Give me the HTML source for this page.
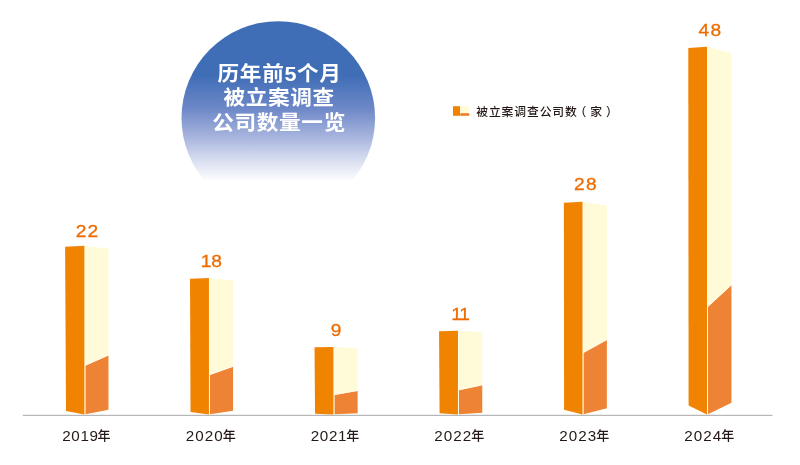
<!DOCTYPE html>
<html lang="zh-CN">
<head>
<meta charset="utf-8">
<title>历年前5个月被立案调查公司数量一览</title>
<style>
html,body{margin:0;padding:0;background:#fff;}
body{width:800px;height:465px;overflow:hidden;position:relative;}
svg{position:absolute;left:0;top:0;display:block;}
text{font-family:"Liberation Sans","Noto Sans CJK SC",sans-serif;}
.v{font-size:17.4px;fill:#ed6c00;text-anchor:middle;stroke:#ed6c00;stroke-width:0.3px;}
.x{font-size:15.2px;fill:#231815;}
.n{font-size:13px;font-weight:500;}
.t{font-size:20.6px;font-weight:bold;fill:#fff;text-anchor:middle;letter-spacing:0.62px;}
.l{font-size:11.8px;font-weight:500;fill:#231815;letter-spacing:0.9px;}
</style>
</head>
<body>
<svg width="800" height="465" viewBox="0 0 800 465">
<defs>
<linearGradient id="g" x1="0" y1="0" x2="0" y2="1">
<stop offset="0" stop-color="#3f6db6"/>
<stop offset="0.28" stop-color="#3f6db6"/>
<stop offset="0.45" stop-color="#6d88c8"/>
<stop offset="0.61" stop-color="#acb8df"/>
<stop offset="0.73" stop-color="#dde2f2"/>
<stop offset="0.83" stop-color="#ffffff"/>
<stop offset="1" stop-color="#ffffff"/>
</linearGradient>
</defs>
<rect width="800" height="465" fill="#fff"/>
<circle cx="278.3" cy="118" r="96.8" fill="url(#g)"/>
<text class="t" transform="translate(279.6,80.6) scale(1.05,1)">历年前5个月</text>
<text class="t" transform="translate(279.1,105.4) scale(1.05,1)">被立案调查</text>
<text class="t" transform="translate(279.1,130.2) scale(1.05,1)">公司数量一览</text>
<rect x="453" y="106.2" width="16.2" height="9.6" fill="#fffad7"/>
<rect x="453" y="106.2" width="7.0" height="9.6" fill="#f08300"/>
<rect x="460.3" y="113.2" width="8.9" height="2.6" fill="#ee7d2c"/>
<text class="l" x="476.2" y="116.2">被立案调查公司数<tspan dx="-3.3">（</tspan><tspan dx="3.0">家</tspan><tspan dx="3.0">）</tspan></text>
<rect x="22.8" y="414.8" width="749.7" height="1.1" fill="#b0b0b0"/>
<polygon points="84.10,245.70 108.45,248.70 108.45,409.71 84.10,414.50" fill="#fffad7"/>
<polygon points="85.40,365.72 108.45,355.42 108.45,409.71 85.40,414.30" fill="#ee8335"/>
<polyline points="108.45,355.02 84.90,365.32 84.90,414.20" fill="none" stroke="#fffef4" stroke-width="0.8"/>
<line x1="84.80" y1="246.20" x2="84.80" y2="365.72" stroke="#fffef4" stroke-width="0.8"/>
<polygon points="65.10,246.63 84.40,245.70 84.40,414.50 66.00,411.01" fill="#f08300"/>
<text class="v" transform="translate(87.39,236.7) scale(1.10,1)" style="letter-spacing:0.8px">22</text>
<text class="x" x="62.30" y="441.0" style="letter-spacing:0.6px">2019<tspan class="n" x="97.60" dy="-1.3">年</tspan></text>
<polygon points="208.62,278.00 233.05,280.43 233.05,410.85 208.62,414.50" fill="#fffad7"/>
<polygon points="209.92,375.05 233.05,366.73 233.05,410.85 209.92,414.30" fill="#ee8335"/>
<polyline points="233.05,366.33 209.42,374.65 209.42,414.20" fill="none" stroke="#fffef4" stroke-width="0.8"/>
<line x1="209.32" y1="278.50" x2="209.32" y2="375.05" stroke="#fffef4" stroke-width="0.8"/>
<polygon points="190.02,278.75 208.92,278.00 208.92,414.50 190.52,411.90" fill="#f08300"/>
<text class="v" transform="translate(211.35,267.1) scale(1.10,1)" style="letter-spacing:0.0px">18</text>
<text class="x" x="185.70" y="441.0" style="letter-spacing:1.05px">2020<tspan class="n" x="222.70" dy="-1.3">年</tspan></text>
<polygon points="333.14,347.00 357.65,348.20 357.65,413.30 333.14,414.50" fill="#fffad7"/>
<polygon points="334.44,394.99 357.65,390.88 357.65,413.30 334.44,414.30" fill="#ee8335"/>
<polyline points="357.65,390.48 333.94,394.59 333.94,414.20" fill="none" stroke="#fffef4" stroke-width="0.8"/>
<line x1="333.84" y1="347.50" x2="333.84" y2="394.99" stroke="#fffef4" stroke-width="0.8"/>
<polygon points="314.54,347.37 333.44,347.00 333.44,414.50 315.04,413.81" fill="#f08300"/>
<text class="v" transform="translate(336.15,336.1) scale(1.10,1)" style="letter-spacing:0px">9</text>
<text class="x" x="310.70" y="441.0" style="letter-spacing:0.65px">2021<tspan class="n" x="346.20" dy="-1.3">年</tspan></text>
<polygon points="457.66,330.80 482.25,332.29 482.25,412.73 457.66,414.50" fill="#fffad7"/>
<polygon points="458.96,390.31 482.25,385.20 482.25,412.73 458.96,414.30" fill="#ee8335"/>
<polyline points="482.25,384.81 458.46,389.91 458.46,414.20" fill="none" stroke="#fffef4" stroke-width="0.8"/>
<line x1="458.36" y1="331.30" x2="458.36" y2="390.31" stroke="#fffef4" stroke-width="0.8"/>
<polygon points="439.06,331.26 457.96,330.80 457.96,414.50 439.56,413.36" fill="#f08300"/>
<text class="v" transform="translate(459.99,319.5) scale(1.10,1)" style="letter-spacing:-1.2px">11</text>
<text class="x" x="434.30" y="441.0" style="letter-spacing:1.05px">2022<tspan class="n" x="471.20" dy="-1.3">年</tspan></text>
<polygon points="582.18,201.70 606.85,205.49 606.85,408.15 582.18,414.50" fill="#fffad7"/>
<polygon points="583.48,353.00 606.85,340.02 606.85,408.15 583.48,414.30" fill="#ee8335"/>
<polyline points="606.85,339.62 582.98,352.60 582.98,414.20" fill="none" stroke="#fffef4" stroke-width="0.8"/>
<line x1="582.88" y1="202.20" x2="582.88" y2="353.00" stroke="#fffef4" stroke-width="0.8"/>
<polygon points="563.88,202.87 582.48,201.70 582.48,414.50 564.08,409.80" fill="#f08300"/>
<text class="v" transform="translate(585.91,190.0) scale(1.10,1)" style="letter-spacing:1.2px">28</text>
<text class="x" x="559.30" y="441.0" style="letter-spacing:1.05px">2023<tspan class="n" x="596.20" dy="-1.3">年</tspan></text>
<polygon points="706.70,46.75 731.45,53.30 731.45,402.64 706.70,414.50" fill="#fffad7"/>
<polygon points="708.00,306.93 731.45,285.24 731.45,402.64 708.00,414.30" fill="#ee8335"/>
<polyline points="731.45,284.84 707.50,306.53 707.50,414.20" fill="none" stroke="#fffef4" stroke-width="0.8"/>
<line x1="707.40" y1="47.25" x2="707.40" y2="306.93" stroke="#fffef4" stroke-width="0.8"/>
<polygon points="688.30,48.04 707.00,46.75 707.00,414.50 688.60,405.52" fill="#f08300"/>
<text class="v" transform="translate(710.46,35.9) scale(1.10,1)" style="letter-spacing:1.2px">48</text>
<text class="x" x="684.30" y="441.0" style="letter-spacing:1.05px">2024<tspan class="n" x="721.20" dy="-1.3">年</tspan></text>
</svg>
</body>
</html>
